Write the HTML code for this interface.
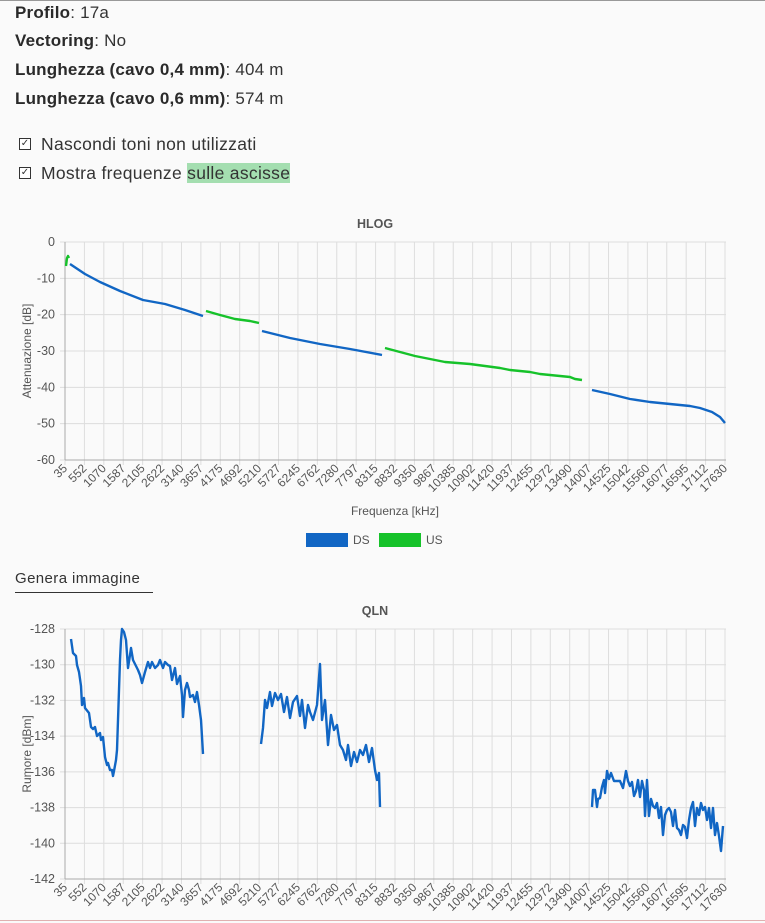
<!DOCTYPE html>
<html><head><meta charset="utf-8"><style>
body{margin:0;width:765px;height:923px;background:#fafafa;font-family:"Liberation Sans",sans-serif;position:relative;overflow:hidden;color:#333}
.top{position:absolute;left:0;top:0;width:765px;height:1px;background:#999}
.bot{position:absolute;left:0;top:920px;width:765px;height:1px;background:#e0b0b0}
.l{position:absolute;left:15px;font-size:17px;color:#333;white-space:nowrap;letter-spacing:0.2px}
.l b{color:#2a2a2a}
.cb{position:absolute;left:19px;width:10px;height:10px;border:1px solid #333;background:#fff;font-size:10px;line-height:10px;text-align:center}
.ct{position:absolute;left:41px;font-size:17.5px;color:#333;white-space:nowrap;letter-spacing:0.3px}
.hl{background:#a4deb0}
svg{position:absolute;left:0;top:0}
</style></head><body>
<div class="top"></div>
<div class="l" style="top:3px"><b>Profilo</b>: 17a</div>
<div class="l" style="top:31px"><b>Vectoring</b>: No</div>
<div class="l" style="top:60px"><b>Lunghezza (cavo 0,4 mm)</b>: 404 m</div>
<div class="l" style="top:89px"><b>Lunghezza (cavo 0,6 mm)</b>: 574 m</div>
<div class="cb" style="top:138px">✓</div><div class="ct" style="top:134px">Nascondi toni non utilizzati</div>
<div class="cb" style="top:167px">✓</div><div class="ct" style="top:163px">Mostra frequenze <span class="hl">sulle ascisse</span></div>
<div class="l" style="top:570px;font-size:15px;color:#333;letter-spacing:0.4px">Genera immagine</div>
<div style="position:absolute;left:15px;top:592px;width:138px;height:1px;background:#333"></div>
<svg id="s" width="765" height="923" xmlns="http://www.w3.org/2000/svg" font-family="Liberation Sans, sans-serif"></svg>
<div class="bot"></div>
<script>
var s=document.getElementById('s'),h='';
var labs=[35,552,1070,1587,2105,2622,3140,3657,4175,4692,5210,5727,6245,6762,7280,7797,8315,8832,9350,9867,10385,10902,11420,11937,12455,12972,13490,14007,14525,15042,15560,16077,16595,17112,17630];
function chart(y0,y1,ticks,lbl,title,ty){
 var x0=65,x1=725;
 for(var i=0;i<labs.length;i++){var x=x0+i*(x1-x0)/34;
  h+='<line x1="'+x+'" y1="'+y0+'" x2="'+x+'" y2="'+(y1+5)+'" stroke="#ddd"/>';
  h+='<text transform="translate('+(x+3)+','+(y1+9)+') rotate(-45)" text-anchor="end" font-size="12" fill="#555">'+labs[i]+'</text>';}
 for(var j=0;j<ticks.length;j++){var y=y0+j*(y1-y0)/(ticks.length-1);
  h+='<line x1="'+(x0-5)+'" y1="'+y+'" x2="'+(x1+1)+'" y2="'+y+'" stroke="#ddd"/>';
  h+='<text x="'+(x0-10)+'" y="'+(y+4)+'" text-anchor="end" font-size="12.5" fill="#555">'+ticks[j]+'</text>';}
 h+='<line x1="'+x0+'" y1="'+y0+'" x2="'+x0+'" y2="'+y1+'" stroke="#aaa"/><line x1="'+x0+'" y1="'+y1+'" x2="'+(x1+1)+'" y2="'+y1+'" stroke="#aaa"/>';
 h+='<text transform="translate(31,'+((y0+y1)/2)+') rotate(-90)" text-anchor="middle" font-size="12" fill="#555">'+lbl+'</text>';
 h+='<text x="375" y="'+ty+'" text-anchor="middle" font-size="12.5" font-weight="bold" fill="#555">'+title+'</text>';
}
chart(242,460,[0,-10,-20,-30,-40,-50,-60],'Attenuazione [dB]','HLOG',228);
chart(629,879,[-128,-130,-132,-134,-136,-138,-140,-142],'Rumore [dBm]','QLN',615);
h+='<text x="395" y="515" text-anchor="middle" font-size="12" fill="#555">Frequenza [kHz]</text>';
h+='<rect x="306" y="533" width="42" height="14" fill="#1166c4"/><text x="353" y="544" font-size="12" fill="#555">DS</text>';
h+='<rect x="379" y="533" width="42" height="14" fill="#16c22a"/><text x="426" y="544" font-size="12" fill="#555">US</text>';
function pl(p,c){h+='<polyline fill="none" stroke="'+c+'" stroke-width="2.4" stroke-linejoin="round" points="'+p+'"/>';}
var B='#1166c4',G='#16c22a';
pl('66,266 67,258 68,256 69,258',G);
pl('70,264 85,274 100,282 120,291 143,300 165,304 185,310 203,316',B);
pl('206,311 220,315 235,319 250,321 259,323',G);
pl('262,331 290,338 320,344 350,349 382,355',B);
pl('385,348 400,352 415,356 430,359 445,362 470,364 500,368 510,370 520,371 530,372 540,374 550,375 560,376 570,377 575,379 582,380',G);
pl('592,390 610,394 630,399 650,402 670,404 690,406 700,408 712,412 720,417 725,423',B);
pl('71,639 73,653 75,655 76,656 77,665 79,672 81,686 82,705 84,698 85,708 89,713 91,727 93,729 95,727 97,736 100,733 101,740 103,737 105,757 107,765 108,763 110,770 112,770 113,776 114,771 116,760 117,750 118,720 119,690 120,660 121,640 122,629 124,632 126,640 127,654 128,668 130,655 131,648 133,660 136,666 138,670 140,675 142,683 145,672 148,662 150,668 152,662 155,668 158,665 160,660 163,668 165,662 168,665 170,666 172,680 175,668 177,684 180,676 182,695 183,717 185,690 187,683 189,690 190,697 193,695 195,702 197,692 199,705 201,720 203,754',B);
pl('261,744 263,728 265,700 267,708 270,692 272,706 275,693 278,700 281,694 284,712 287,697 290,718 293,702 297,696 300,716 302,700 305,728 308,705 310,712 313,720 317,705 320,664 322,720 325,700 328,745 331,715 334,730 337,725 340,745 343,750 346,760 348,745 351,766 354,752 357,762 360,750 363,755 366,745 369,762 372,748 375,770 377,780 379,773 380,807',B);
pl('592,807 593,790 595,790 597,807 598,799 600,798 602,787 604,780 605,793 607,771 609,779 611,773 614,781 620,781 623,788 626,771 628,781 630,786 632,782 634,796 636,791 638,780 640,797 642,781 644,790 645,816 647,780 649,816 651,799 653,806 655,808 657,803 659,818 661,807 663,835 665,815 667,810 669,808 671,812 673,826 675,810 677,828 679,830 681,835 683,825 685,827 687,838 689,820 691,808 693,802 695,826 697,808 699,815 701,803 703,810 705,807 707,820 709,808 711,828 713,808 715,835 717,823 719,836 721,851 723,826',B);
s.innerHTML=h;
</script>
</body></html>
